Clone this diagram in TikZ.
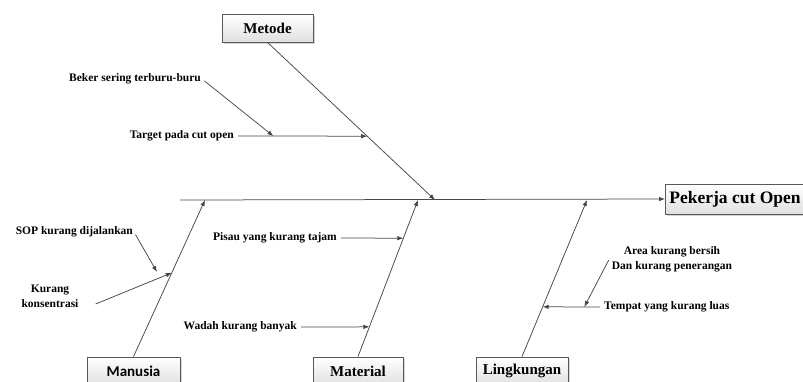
\documentclass[tikz,border=0pt]{standalone}
\usepackage{fontspec}
\setmainfont{Liberation Serif}
\newfontfamily\carlito{Carlito}
\usetikzlibrary{arrows.meta,shadows,calc}
\begin{document}
\begin{tikzpicture}[x=1pt,y=-1pt,
  causebox/.style={draw=black!65, line width=0.8pt, top color=white, bottom color=black!12,
    drop shadow={shadow xshift=1.5pt,shadow yshift=-1.5pt,opacity=0.35},
    minimum height=28pt, inner sep=0pt, font=\bfseries\fontsize{15}{18}\selectfont},
  lbl/.style={font=\bfseries\fontsize{11.5}{15}\selectfont, inner sep=1pt, align=center},
  conn/.style={draw=black!72, line width=0.75pt, -{Latex[length=6pt,width=4.5pt]}},
  fromlbl/.style={conn, shorten <=3pt}]
\useasboundingbox (0,0) rectangle (803,381);

% category boxes
\node[causebox, minimum width=91pt] (metode) at (267.5,28) {Metode};
\node[causebox, minimum width=93pt, font=\carlito\bfseries\fontsize{15}{18}\selectfont] (manusia) at (133.5,371) {Manusia};
\node[causebox, minimum width=90pt] (material) at (358,371) {Material};
\node[causebox, minimum width=92pt] (lingkungan) at (522,371) {Lingkungan};
\node[causebox, anchor=west, minimum height=30pt, inner xsep=4pt,
      font=\bfseries\fontsize{17.5}{20}\selectfont] (effect) at (665,199) {Pekerja cut Open\kern24pt};

% spine
\coordinate (spstart) at (180,200);
\coordinate (hmet) at (435,200);
\coordinate (hman) at (205,200);
\coordinate (hmat) at (418,200);
\coordinate (hlin) at (587,200);

\draw[conn] (spstart) -- (effect.west);
\draw[conn] (metode.south) -- (hmet);
\draw[conn] (manusia.north) -- (hman);
\draw[conn] (material.north) -- (hmat);
\draw[conn] (lingkungan.north) -- (hlin);

% Metode causes
\node[lbl, anchor=east] (beker) at (202,79) {Beker sering terburu-buru};
\node[lbl, anchor=east] (target) at (235,136) {Target pada cut open};
\coordinate (ptarget) at ($(metode.south)!0.595!(hmet)$);
\draw[fromlbl] (target.east) -- (ptarget);
\coordinate (pbeker) at ($(target.east)!0.29!(ptarget)$);
\draw[fromlbl] (beker.east) -- (pbeker);

% Manusia causes
\node[lbl, anchor=east] (sop) at (134,232) {SOP kurang dijalankan};
\node[lbl] (kk) at (50,296) {Kurang\\konsentrasi};
\coordinate (pkk) at ($(manusia.north)!0.535!(hman)$);
\coordinate (kkstart) at ([shift={(16,8)}]kk.east);
\draw[conn] (kkstart) -- (pkk);
\coordinate (sopend) at (157,272);
\draw[fromlbl] (sop.east) -- (sopend);

% Material causes
\node[lbl, anchor=east] (pisau) at (338,238) {Pisau yang kurang tajam};
\node[lbl, anchor=east] (wadah) at (298,327) {Wadah kurang banyak};
\coordinate (ppisau) at ($(material.north)!0.756!(hmat)$);
\coordinate (pwadah) at ($(material.north)!0.19!(hmat)$);
\draw[fromlbl] (pisau.east) -- (ppisau);
\draw[fromlbl] (wadah.east) -- (pwadah);

% Lingkungan causes
\node[lbl, anchor=west] (tempat) at (603,307) {Tempat yang kurang luas};
\node[lbl] (area) at (672,259) {Area kurang bersih\\Dan kurang penerangan};
\coordinate (ptempat) at ($(lingkungan.north)!0.318!(hlin)$);
\draw[fromlbl] (tempat.west) -- (ptempat);
\coordinate (parea) at ($(tempat.west)!0.31!(ptempat)$);
\draw[conn] ([shift={(-2,1)}]area.west) -- (parea);
\end{tikzpicture}
\end{document}
